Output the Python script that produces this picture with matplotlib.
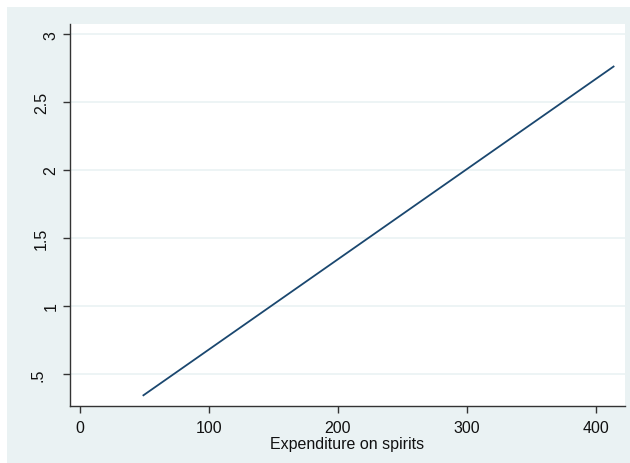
import matplotlib
matplotlib.use("Agg")
import matplotlib.pyplot as plt
from matplotlib.patches import Rectangle
from matplotlib.transforms import blended_transform_factory

# Data (fitted line endpoints)
spirits = [48.6, 414.2]
fitted = [0.34, 2.765]
xticks = [0, 100, 200, 300, 400]
yticks = [0.5, 1, 1.5, 2, 2.5, 3]
yticklabels = [".5", "1", "1.5", "2", "2.5", "3"]

# layout: horizontal pixel centres of the rotated y tick labels (Stata style)
ylabel_px = [38, 51, 41.7, 51, 42, 51]

plt.rcParams['font.family'] = ['Liberation Sans', 'DejaVu Sans']
W, H = 630, 464
fig = plt.figure(figsize=(W / 100, H / 100), dpi=100)
fig.patch.set_facecolor('white')
bg = '#EAF2F3'
fig.patches.append(Rectangle((7 / W, 0), 1 - 7 / W, 1 - 8 / H, transform=fig.transFigure,
                             facecolor=bg, edgecolor='none', zorder=-10))

ax = fig.add_axes([70 / W, (H - 407) / H, (625 - 70) / W, (407 - 25) / H])
ax.set_facecolor('white')
ax.plot(spirits, fitted, color='#1A476F', lw=1.3, solid_capstyle='butt')

ax.set_xlim(-7.75, 422.5)
ax.set_ylim(0.265, 3.074)
ax.set_xticks(xticks)
ax.set_xticklabels([str(t) for t in xticks])
ax.set_yticks(yticks)
ax.grid(axis='y', color=bg, lw=1.2)
ax.set_axisbelow(True)
for s in ['top', 'right']:
    ax.spines[s].set_visible(False)
for s in ['left', 'bottom']:
    ax.spines[s].set_color('#333333')
    ax.spines[s].set_linewidth(1.0)
ax.tick_params(axis='both', direction='out', length=5, width=1.0, color='#333333',
               labelsize=11.5, pad=5, labelcolor='#111111')
ax.tick_params(axis='y', labelleft=False)

trans = blended_transform_factory(fig.transFigure, ax.transData)
for yv, lab, px in zip(yticks, yticklabels, ylabel_px):
    fig.text(px / W, yv, lab, transform=trans, rotation=90, ha='center', va='center',
             fontsize=11.5, color='#111111')

ax.set_xlabel('Expenditure on spirits', fontsize=11.5, labelpad=1, color='#111111')

fig.savefig('out.png', dpi=100, facecolor=fig.get_facecolor())
